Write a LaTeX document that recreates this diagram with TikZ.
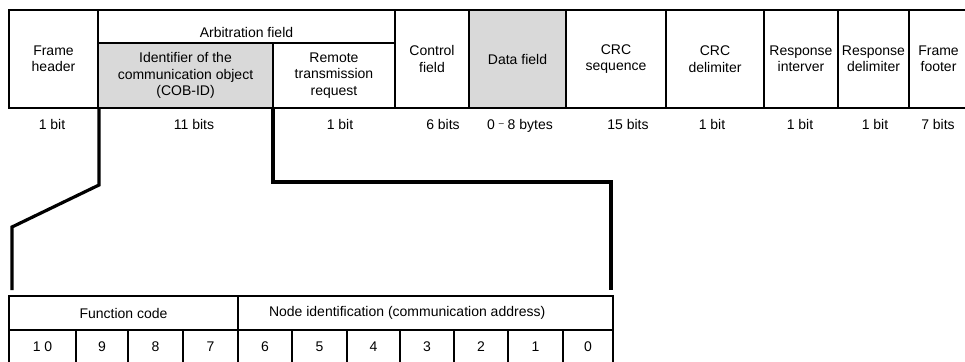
\documentclass[tikz,border=0pt]{standalone}
\usepackage{fontspec}
\setmainfont{Liberation Sans}
\usetikzlibrary{positioning}
\definecolor{cellgray}{RGB}{217,217,217}

\begin{document}
\begin{tikzpicture}[
			x=1pt, y=-1pt,
			every node/.style={
					font=\fontsize{14}{16.5}\selectfont,
					align=center,
					inner sep=0pt,
					outer sep=0pt
				},
			cell/.style={
					draw,
					line width=1.8pt,
					anchor=north west
				},
			shaded/.style={fill=cellgray},
			bits/.style={
					text height=1.5ex, % Height above the baseline
					text depth=0.25ex  % Depth below the baseline
				},
			lead/.style={line width=3.2pt}
		]
		\useasboundingbox (0,0) rectangle (965,361);
		\clip (0,0) rectangle (965,361);

		% CAN frame
		\node[cell, minimum width=89pt, minimum height=98pt] (fh) at (9,10) {Frame\\header};
		\node[cell, minimum width=297pt, minimum height=33pt] (arb) at (98,10) {\raisebox{-6pt}[\height][\depth]{Arbitration field}};
		\node[cell, shaded, minimum width=175pt, minimum height=65pt] (cob) at (98,43) {Identifier of the\\communication object\\(COB-ID)};
		\node[cell, minimum width=122pt, minimum height=65pt] (rtr) at (273,43) {Remote\\transmission\\request};
		\node[cell, minimum width=74pt, minimum height=98pt] (ctl) at (395,10) {Control\\field};
		\node[cell, shaded, minimum width=97pt, minimum height=98pt] (data) at (469,10) {Data field};
		\node[cell, minimum width=100pt, minimum height=98pt] (crc) at (566,10) {CRC\\sequence};
		\node[cell, minimum width=98pt, minimum height=98pt] (crcd) at (666,10) {CRC\\delimiter};
		\node[cell, minimum width=74pt, minimum height=98pt] (resi) at (764,10) {Response\\interver};
		\node[cell, minimum width=71pt, minimum height=98pt] (resd) at (838,10) {Response\\delimiter};
		\node[cell, minimum width=59pt, minimum height=98pt] (ff) at (909,10) {Frame\\footer};

		% lengths
		\node[bits] (s1) at (52,126) {1 bit};
		\node[bits] (s2) at (194,126) {11 bits};
		\node[bits] (s3) at (340,126) {1 bit};
		\node[bits] (s4) at (443,126) {6 bits};
		\node[bits] (s5) at (520,126) {0 \raisebox{0.35ex}{\small --} 8 bytes};
		\node[bits] (s6) at (628,126) {15 bits};
		\node[bits] (s7) at (712,126) {1 bit};
		\node[bits] (s8) at (800,126) {1 bit};
		\node[bits] (s9) at (875,126) {1 bit};
		\node[bits] (s10) at (938,126) {7 bits};

		% COB-ID
		\node[cell, minimum width=229pt, minimum height=34pt] (fc) at (9,296) {Function code};
		\node[cell, minimum width=375pt, minimum height=34pt] (nid) at (238,296) {};
		\node[anchor=west, right=31pt of nid.west] (nidtxt) {Node identification (communication address)};
		\node[cell, bits, minimum width=67pt, minimum height=36pt] (c10) at (9,330) {1 0};
		\node[cell, bits, minimum width=52pt, minimum height=36pt] (c9) at (76,330) {9};
		\node[cell, bits, minimum width=55pt, minimum height=36pt] (c8) at (128,330) {8};
		\node[cell, bits, minimum width=55pt, minimum height=36pt] (c7) at (183,330) {7};
		\node[cell, bits, minimum width=54pt, minimum height=36pt] (c6) at (238,330) {6};
		\node[cell, bits, minimum width=55pt, minimum height=36pt] (c5) at (292,330) {5};
		\node[cell, bits, minimum width=53pt, minimum height=36pt] (c4) at (347,330) {4};
		\node[cell, bits, minimum width=54pt, minimum height=36pt] (c3) at (400,330) {3};
		\node[cell, bits, minimum width=54pt, minimum height=36pt] (c2) at (454,330) {2};
		\node[cell, bits, minimum width=55pt, minimum height=36pt] (c1) at (508,330) {1};
		\node[cell, bits, minimum width=50pt, minimum height=36pt] (c0) at (563,330) {0};

		\coordinate (lk1) at (99,185);
		\coordinate (lk2) at (12,227);
		\coordinate (lk3) at (12,290);
		\coordinate (rk1) at (273,182);
		\coordinate (rk2) at (611,182);
		\coordinate (rk3) at (611,290);

		\draw[lead] ([xshift=1pt]cob.south west) -- (lk1) -- (lk2) -- (lk3);
		\draw[lead] (cob.south east) -- (rk1) -- (rk2) -- (rk3);
	\end{tikzpicture}
\end{document}
